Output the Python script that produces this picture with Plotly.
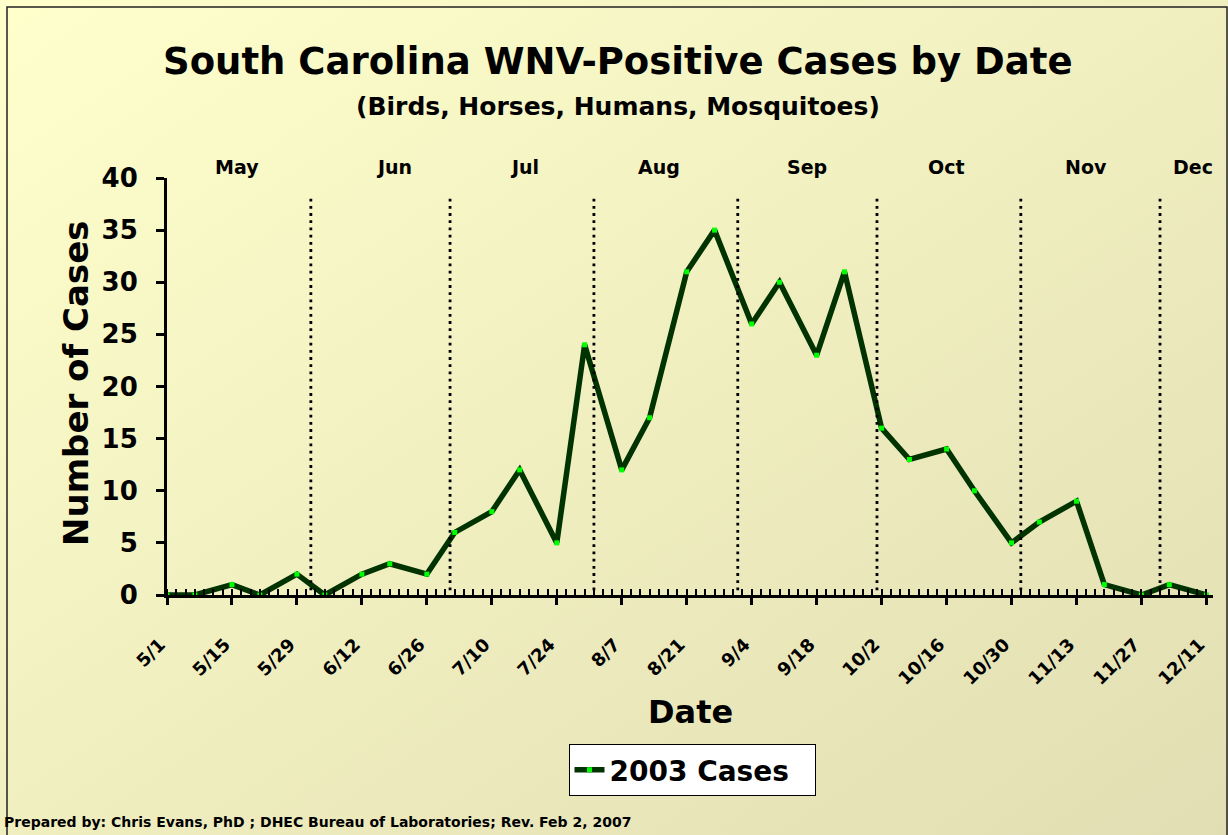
import base64
import plotly.graph_objects as go

# ---------------- data ----------------
dates = [
    "2003-05-01", "2003-05-07", "2003-05-15", "2003-05-21", "2003-05-29",
    "2003-06-04", "2003-06-12", "2003-06-18", "2003-06-26", "2003-07-02",
    "2003-07-10", "2003-07-16", "2003-07-24", "2003-07-30", "2003-08-07",
    "2003-08-13", "2003-08-21", "2003-08-27", "2003-09-04", "2003-09-10",
    "2003-09-18", "2003-09-24", "2003-10-02", "2003-10-08", "2003-10-16",
    "2003-10-22", "2003-10-30", "2003-11-05", "2003-11-13", "2003-11-19",
    "2003-11-27", "2003-12-03", "2003-12-11",
]
cases = [0, 0, 1, 0, 2, 0, 2, 3, 2, 6,
         8, 12, 5, 24, 12, 17, 31, 35, 26, 30,
         23, 31, 16, 13, 14, 10, 5, 7, 9, 1,
         0, 1, 0]

month_names = ["May", "Jun", "Jul", "Aug", "Sep", "Oct", "Nov", "Dec"]
month_label_dates = ["2003-05-16", "2003-06-19", "2003-07-17", "2003-08-15",
                     "2003-09-16", "2003-10-16", "2003-11-15", "2003-12-08"]
month_starts = ["2003-06-01", "2003-07-01", "2003-08-01", "2003-09-01",
                "2003-10-01", "2003-11-01", "2003-12-01"]

series_name = "2003 Cases"
title_text = "South Carolina WNV-Positive Cases by Date"
subtitle_text = "(Birds, Horses, Humans, Mosquitoes)"
x_title = "Date"
y_title = "Number of Cases"
footer_text = "Prepared by: Chris Evans, PhD ; DHEC Bureau of Laboratories; Rev. Feb 2, 2007"

# ---------------- geometry ----------------
W, H = 1228, 835
ML, MR, MT, MB = 167, 15, 178, 240
PW = W - ML - MR
PH = H - MT - MB


def fx(px):
    return (px - ML) / PW


def fy(py):
    return (H - MB - py) / PH


FONT = "DejaVu Sans, Arial, sans-serif"
DAY = 86400000

fig = go.Figure()
fig.add_trace(go.Scatter(
    x=dates, y=cases, name=series_name, mode="lines+markers",
    line=dict(color="#003300", width=5.5),
    marker=dict(symbol="square", size=5, color="#00FF00",
                line=dict(width=0)),
    showlegend=True,
))

# background gradient
svg = ('<svg xmlns="http://www.w3.org/2000/svg" width="100" height="100" '
       'preserveAspectRatio="none" viewBox="0 0 100 100">'
       '<defs><linearGradient id="g" x1="0" y1="0" x2="1" y2="1">'
       '<stop offset="0" stop-color="#FFFFCC"/>'
       '<stop offset="1" stop-color="#E1DEB3"/>'
       '</linearGradient></defs>'
       '<rect width="100" height="100" fill="url(#g)"/></svg>')
src = "data:image/svg+xml;base64," + base64.b64encode(svg.encode()).decode()

shapes = []
for d in month_starts:
    shapes.append(dict(type="line", xref="x", yref="y", x0=d, x1=d,
                       y0=0.45, y1=38.1,
                       line=dict(color="black", width=2.8, dash="2.8px,4.4px")))
shapes.append(dict(type="rect", xref="paper", yref="paper",
                   x0=fx(7), x1=fx(1227), y0=fy(7), y1=fy(845),
                   line=dict(color="#222222", width=1.5), layer="above"))

annotations = [
    dict(text=title_text, x=fx(618), y=fy(62), xref="paper", yref="paper",
         showarrow=False, xanchor="center", yanchor="middle",
         font=dict(family=FONT, size=37, color="black", weight="bold")),
    dict(text=subtitle_text, x=fx(618), y=fy(107), xref="paper", yref="paper",
         showarrow=False, xanchor="center", yanchor="middle",
         font=dict(family=FONT, size=25, color="black", weight="bold")),
    dict(text=y_title, x=fx(76), y=fy(383), xref="paper", yref="paper",
         showarrow=False, xanchor="center", yanchor="middle", textangle=-90,
         font=dict(family=FONT, size=34, color="black", weight="bold")),
    dict(text=x_title, x=fx(690), y=fy(712), xref="paper", yref="paper",
         showarrow=False, xanchor="center", yanchor="middle",
         font=dict(family=FONT, size=32, color="black", weight="bold")),
    dict(text=footer_text, x=fx(2), y=fy(822), xref="paper", yref="paper",
         showarrow=False, xanchor="left", yanchor="middle",
         font=dict(family=FONT, size=14, color="black", weight="bold")),
]
for name, d in zip(month_names, month_label_dates):
    annotations.append(dict(text=name, x=d, y=fy(167), xref="x", yref="paper",
                            showarrow=False, xanchor="center", yanchor="middle",
                            font=dict(family=FONT, size=19, color="black",
                                      weight="bold")))

fig.update_layout(
    width=W, height=H,
    margin=dict(l=ML, r=MR, t=MT, b=MB, pad=0, autoexpand=False),
    paper_bgcolor="#F3F1C6",
    plot_bgcolor="rgba(0,0,0,0)",
    images=[dict(source=src, xref="paper", yref="paper", x=fx(0), y=fy(0),
                 sizex=W / PW, sizey=H / PH, sizing="stretch",
                 xanchor="left", yanchor="top", layer="below")],
    shapes=shapes,
    annotations=annotations,
    showlegend=True,
    legend=dict(x=fx(692), y=fy(770), xanchor="center", yanchor="middle",
                orientation="h",
                bgcolor="white", bordercolor="black", borderwidth=1,
                itemwidth=30, entrywidth=200, entrywidthmode="pixels",
                font=dict(family=FONT, size=28, color="black", weight="bold")),
    xaxis=dict(
        type="date",
        range=["2003-05-01", "2003-12-12 10:00"],
        tick0="2003-05-01", dtick=14 * DAY, tickformat="%-m/%-d",
        tickangle=-45,
        tickfont=dict(family=FONT, size=18, color="black", weight="bold"),
        ticklabelstandoff=22, ticklabelshift=-7,
        ticks="outside", ticklen=7, tickwidth=2.5, tickcolor="black",
        minor=dict(dtick=2 * DAY, tick0="2003-05-01", ticks="inside",
                   ticklen=6, tickwidth=2, tickcolor="black", showgrid=False),
        showline=True, linecolor="black", linewidth=3,
        showgrid=False, zeroline=False, fixedrange=True,
    ),
    yaxis=dict(
        range=[0, 40], dtick=5, tick0=0,
        tickfont=dict(family=FONT, size=26, color="black", weight="bold"),
        ticks="outside", ticklen=8, tickwidth=2.5, tickcolor="black",
        ticklabelstandoff=13,
        showline=True, linecolor="black", linewidth=3,
        showgrid=False, zeroline=False, fixedrange=True,
    ),
)

fig.write_html(
    "out.html",
    config={"displayModeBar": False},
    post_script="document.body.style.margin='0';document.body.style.overflow='hidden';",
)
